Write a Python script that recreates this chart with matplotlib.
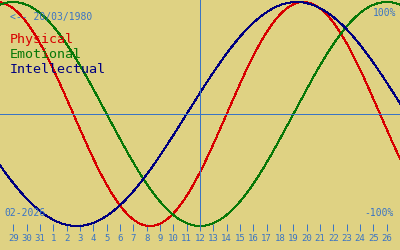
import datetime as dt
import numpy as np
import matplotlib
matplotlib.use("Agg")
import matplotlib.pyplot as plt

# chart data
birth = dt.date(1980, 3, 20)
start = dt.date(2026, 1, 28)          # left edge of the chart
today = dt.date(2026, 2, 12)          # marked by the vertical line
n_days = 30
cycle_names = ["Physical", "Emotional", "Intellectual"]
cycle_periods = [23, 28, 33]
cycle_colours = ["#D80000", "#087808", "#000080"]
month_label = "02-2026"

bg = "#DFD283"
blue = "#3A74C4"

plt.rcParams["font.family"] = "DejaVu Sans Mono"

fig = plt.figure(figsize=(4, 2.5), dpi=100, facecolor=bg)
ax = fig.add_axes([0, 19 / 250, 1, 231 / 250])
ax.set_facecolor(bg)

offset = (start - birth).days
days = np.linspace(0, n_days, 1200)
for name, per, col in zip(cycle_names, cycle_periods, cycle_colours):
    vals = np.sin(2 * np.pi * (offset + days) / per)
    ax.plot(days, vals, color=col, lw=0.72, antialiased=False)

today_x = (today - start).days
ax.axhline(0, color=blue, lw=0.72, antialiased=False)
ax.axvline(today_x, color=blue, lw=0.72, antialiased=False)

ax.set_xlim(0, n_days)
ax.set_ylim(1 + 2 / 112 - 231 / 112, 1 + 2 / 112)
ax.set_yticks([])
tick_days = list(range(1, n_days))
tick_labels = [str((start + dt.timedelta(days=d)).day) for d in tick_days]
ax.set_xticks(tick_days)
ax.set_xticklabels(tick_labels)
ax.tick_params(axis="x", direction="in", length=5.04, width=0.72,
               color=blue, labelcolor=blue, labelsize=6.5, pad=2.2)
for s in ax.spines.values():
    s.set_visible(False)

fig.text(0.025, 1 - 20 / 250, "<-- " + birth.strftime("%d/%m/%Y"),
         color=blue, fontsize=7, va="baseline")
for i, (name, col) in enumerate(zip(cycle_names, cycle_colours)):
    fig.text(0.025, 1 - (43 + 15 * i) / 250, name, color=col,
             fontsize=9.6, va="baseline")
fig.text(396 / 400, 1 - 16 / 250, "100%", color=blue, fontsize=7,
         ha="right", va="baseline")
fig.text(394 / 400, 1 - 216 / 250, "-100%", color=blue, fontsize=7,
         ha="right", va="baseline")
fig.text(4 / 400, 1 - 216 / 250, month_label, color=blue, fontsize=7,
         va="baseline")

fig.savefig("out.png", dpi=100, facecolor=bg)
